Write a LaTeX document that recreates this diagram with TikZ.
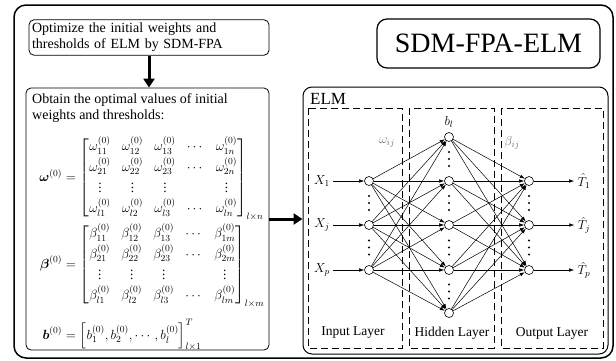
\RequirePackage{fix-cm}
\documentclass[tikz,border=0pt]{standalone}
\usepackage{amsmath}
\usepackage{fontspec}
\setmainfont{Liberation Serif}
\usetikzlibrary{arrows.meta}
\tikzset{
  frame/.style={draw, inner sep=0pt},
  neuron/.style={circle, draw, fill=white, minimum size=9pt, inner sep=0pt, line width=0.6pt},
  conn/.style={line width=0.5pt, -{Latex[length=5pt,width=3.5pt]}},
  bigarrow/.style={line width=3pt, -{Triangle[length=9pt,width=11pt]}},
  layerbox/.style={draw, dash pattern=on 7pt off 4pt, line width=0.7pt},
  txt/.style={font=\fontsize{14}{16}\selectfont},
  mth/.style={font=\fontsize{13}{15.6}\selectfont},
  mtx/.style={font=\fontsize{13.3}{15.6}\selectfont},
  lbl/.style={font=\fontsize{13.5}{16}\selectfont},
  dotmark/.style={circle, fill=black, inner sep=0pt, minimum size=2.2pt},
}
\begin{document}
\begin{tikzpicture}[x=1pt,y=-1pt]
\useasboundingbox (0,0) rectangle (616,360);
% outer frame
\node[frame, rounded corners=12pt, line width=1.5pt, minimum width=599pt, minimum height=353pt] (outer) at (313.5,181.5) {};
% top box
\node[draw, rounded corners=5pt, line width=0.8pt, minimum width=240pt, minimum height=35pt,
      text width=234pt, inner xsep=3pt, align=left, txt] (opt) at (149,37.5)
      {Optimize the initial weights and\\thresholds of ELM by SDM-FPA};
% second box
\node[frame, rounded corners=5pt, line width=0.8pt, minimum width=243pt, minimum height=262pt] (obt) at (147.5,219) {};
\node[anchor=north west, inner sep=0pt, align=left, txt] (obttxt) at (32,93)
      {Obtain the optimal values of initial\\weights and thresholds:};
\node[anchor=base west, inner sep=0pt, mtx] (weq) at (35,181)
 {\renewcommand\arraystretch{1.3}\setlength\arraycolsep{5.6pt}%
 $\makebox[27pt][r]{$\boldsymbol{\omega}^{(0)}$}=\begin{bmatrix}
 \omega_{11}^{(0)} & \omega_{12}^{(0)} & \omega_{13}^{(0)} & \cdots & \omega_{1n}^{(0)}\\
 \omega_{21}^{(0)} & \omega_{22}^{(0)} & \omega_{23}^{(0)} & \cdots & \omega_{2n}^{(0)}\\
 \vdots & \vdots & \vdots & & \vdots\\
 \omega_{l1}^{(0)} & \omega_{l2}^{(0)} & \omega_{l3}^{(0)} & \cdots & \omega_{ln}^{(0)}
 \end{bmatrix}_{l\times n}$};
\node[anchor=base west, inner sep=0pt, mtx] (beq) at (35,268)
 {\renewcommand\arraystretch{1.3}\setlength\arraycolsep{5.6pt}%
 $\makebox[27pt][r]{$\boldsymbol{\beta}^{(0)}$}=\begin{bmatrix}
 \beta_{11}^{(0)} & \beta_{12}^{(0)} & \beta_{13}^{(0)} & \cdots & \beta_{1m}^{(0)}\\
 \beta_{21}^{(0)} & \beta_{22}^{(0)} & \beta_{23}^{(0)} & \cdots & \beta_{2m}^{(0)}\\
 \vdots & \vdots & \vdots & & \vdots\\
 \beta_{l1}^{(0)} & \beta_{l2}^{(0)} & \beta_{l3}^{(0)} & \cdots & \beta_{lm}^{(0)}
 \end{bmatrix}_{l\times m}$};
\node[anchor=base west, inner sep=0pt, mtx] (bvec) at (35,339)
 {$\makebox[27pt][r]{$\boldsymbol{b}^{(0)}$}=\left[b_1^{(0)},b_2^{(0)},\cdots,b_l^{(0)}\right]^T_{l\times1}$};
% SDM-FPA-ELM
\node[draw, rounded corners=10pt, line width=1.2pt, minimum width=223pt, minimum height=49pt,
      inner sep=0pt, font=\fontsize{28}{32}\selectfont] (title) at (488.5,43.5) {SDM-FPA-ELM};
% ELM box
\node[frame, rounded corners=9pt, line width=1pt, minimum width=305pt, minimum height=267pt] (elm) at (455.5,220.5) {};
\node[anchor=west, inner sep=0pt, font=\fontsize{17}{20}\selectfont] (elmlbl) at (310,99) {ELM};
% layer boxes
\draw[layerbox] (308,108) rectangle (402,348);
\draw[layerbox] (409,108) rectangle (494,348);
\draw[layerbox] (501,108) rectangle (603,348);
\node[lbl] (inlbl) at (353,333) {Input Layer};
\node[lbl] (hidlbl) at (452,333) {Hidden Layer};
\node[lbl] (outlbl) at (552,333) {Output Layer};
% big arrows
\draw[bigarrow] (opt.south) -- (opt.south |- obt.north);
\draw[bigarrow] (obt.east) -- (obt.east -| elm.west);
% neurons
\node[neuron] (i1) at (369,181) {};
\node[neuron] (i2) at (369,225) {};
\node[neuron] (i3) at (369,270) {};
\node[neuron] (h1) at (449,137) {};
\node[neuron] (h2) at (449,181) {};
\node[neuron] (h3) at (449,225) {};
\node[neuron] (h4) at (449,270) {};
\node[neuron] (h5) at (449,313) {};
\node[neuron] (o1) at (529,181) {};
\node[neuron] (o2) at (529,225) {};
\node[neuron] (o3) at (529,270) {};
\foreach \i in {1,2,3}{\foreach \h in {1,...,5}{\draw[conn] (i\i) -- (h\h);}}
\foreach \h in {1,...,5}{\foreach \o in {1,2,3}{\draw[conn] (h\h) -- (o\o);}}
% inputs and outputs
\node[mth] (x1) at (322,181) {$X_1$};
\node[mth] (x2) at (322,225) {$X_j$};
\node[mth] (x3) at (322,270) {$X_p$};
\node[mth] (t1) at (584,181) {$\hat{T}_1$};
\node[mth] (t2) at (584,225) {$\hat{T}_j$};
\node[mth] (t3) at (584,270) {$\hat{T}_p$};
\foreach \k in {1,2,3}{\draw[conn] (x\k) -- (i\k); \draw[conn] (o\k) -- (t\k);}
% labels
\node[mth] (bl) at (449,122) {$b_l$};
\node[mth, text=black!55] (wij) at (387,143) {$\omega_{ij}$};
\node[mth, text=black!55] (bij) at (512,143) {$\beta_{ij}$};
% vertical dots
\foreach \nm/\x/\y in {vi1/369/203, vi2/369/247.5, vh1/449/159, vh2/449/203, vh3/449/247.5, vh4/449/291.5, vo1/529/203, vo2/529/247.5}{
  \node[dotmark] (\nm a) at (\x,\y-7) {};
  \node[dotmark] (\nm b) at (\x,\y) {};
  \node[dotmark] (\nm c) at (\x,\y+7) {};
}
\end{tikzpicture}
\end{document}
